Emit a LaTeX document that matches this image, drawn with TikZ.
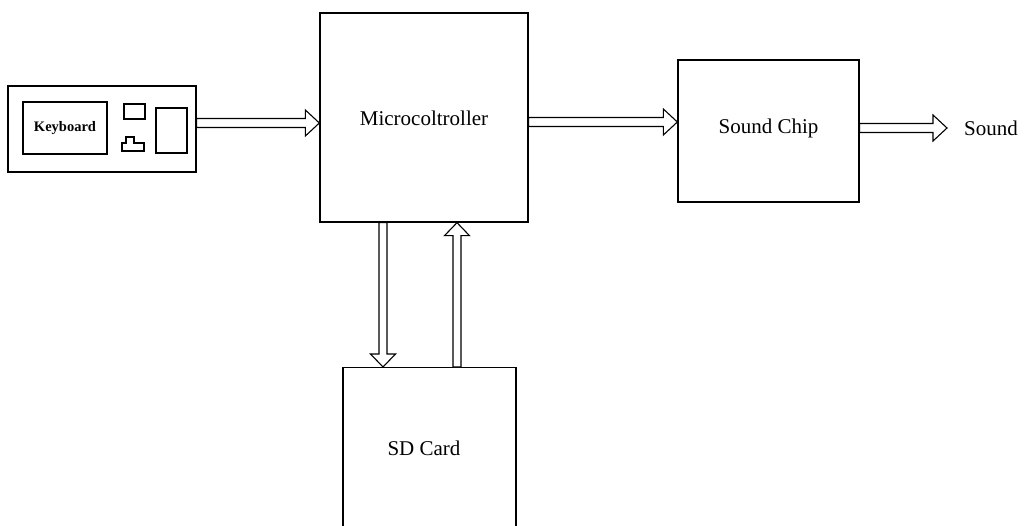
\documentclass[tikz,border=0pt]{standalone}
\usepackage{fontspec}
\setmainfont{Liberation Serif}
\usetikzlibrary{calc}
\tikzset{
  box/.style={draw, line width=1.3pt, inner sep=0pt, fill=white},
  part/.style={draw, line width=1.1pt, inner sep=0pt},
  blk/.style={draw, line width=1.1pt, fill=white, line join=miter},
  lbl/.style={font=\fontsize{21}{23}\selectfont}
}
% block arrows: right, vertical
\newcommand\rarr[2]{\path[blk] let \p1=(#1), \p2=(#2) in
  (\x1,\y1+4.5pt) -- (\x2-14pt,\y1+4.5pt) -- (\x2-14pt,\y1+13pt) -- (\x2,\y1)
  -- (\x2-14pt,\y1-13pt) -- (\x2-14pt,\y1-4.5pt) -- (\x1,\y1-4.5pt) -- cycle;}
\newcommand\varr[2]{\path[blk] let \p1=(#1), \p2=(#2),
  \n1={(\y2>\y1)?1:-1} in
  (\x1-4pt,\y1) -- (\x1-4pt,\y2-\n1*13pt) -- (\x1-12.5pt,\y2-\n1*13pt) -- (\x1,\y2)
  -- (\x1+12.5pt,\y2-\n1*13pt) -- (\x1+4pt,\y2-\n1*13pt) -- (\x1+4pt,\y1) -- cycle;}
\begin{document}
\begin{tikzpicture}[x=1pt,y=-1pt]
\useasboundingbox (0,0) rectangle (1027,525);
% keyboard unit
\node[box, minimum width=188pt, minimum height=86pt] (kb) at (102,129) {};
\node[part, minimum width=84pt, minimum height=52pt, font=\bfseries\fontsize{14.5}{16}\selectfont] (kbd) at (65,128) {Keyboard};
\node[part, minimum width=21pt, minimum height=15pt] (led) at (134.5,111.5) {};
\node[part, minimum width=31pt, minimum height=45pt] (slot) at (171.5,130.5) {};
\draw[line width=1.1pt, line join=miter] (126,137) -- (134,137) -- (134,143) -- (144,143) -- (144,151) -- (122,151) -- (122,143) -- (126,143) -- cycle;
% main blocks
\node[box, minimum width=208pt, minimum height=209pt] (mc) at (424,117.5) {};
\node[lbl] (mct) at (424,118) {Microcoltroller};
\node[box, minimum width=181pt, minimum height=142pt] (sc) at (768.5,131) {};
\node[lbl] (sct) at (768.5,128) {Sound Chip};
\node[box, minimum width=173pt, minimum height=162pt, anchor=north] (sd) at (429.5,367) {};
\node[lbl] (sdt) at (424,448) {SD Card};
\node[lbl, anchor=west, inner xsep=17pt] (snd) at (947,128) {Sound};
% connectors
\rarr{$(kb.east)+(0,-6)$}{mc.west}
\rarr{$(mc.east)+(0,4.5)$}{sc.west}
\rarr{$(sc.east)+(0,-3)$}{snd.west}
\varr{$(mc.south)+(-41,0)$}{sd.north}
\varr{$(sd.north)+(27.5,0)$}{mc.south}
\end{tikzpicture}
\end{document}
